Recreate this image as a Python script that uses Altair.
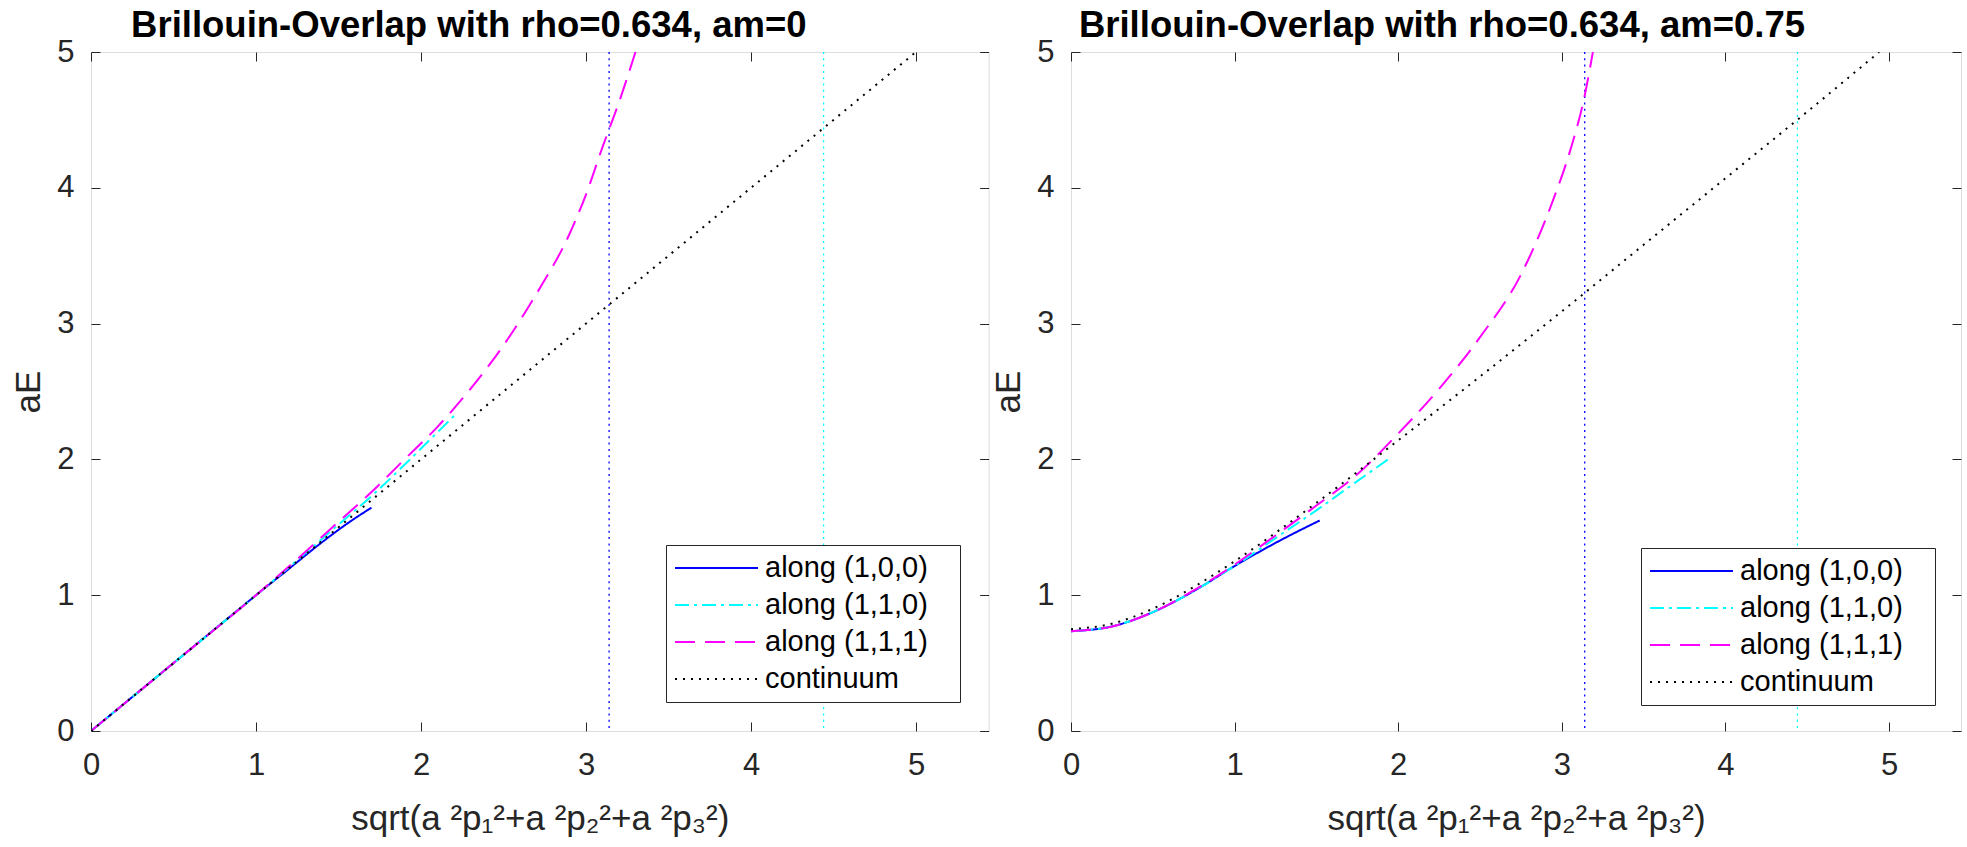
import altair as alt
import pandas as pd

# ---------------- data ----------------
SERIES = ["along (1,0,0)", "along (1,1,0)", "along (1,1,1)", "continuum"]
COLORS = ["#0000ff", "#00ffff", "#ff00ff", "#000000"]
DASHES = [[1, 0], [14, 5, 3, 5], [20, 10], [2, 6]]

X_TICKS = [0, 1, 2, 3, 4, 5]
Y_TICKS = [0, 1, 2, 3, 4, 5]
X_MAX = 5.44
Y_MAX = 5

# left panel: am = 0
L_X100 = [0, 0.4, 0.8, 1.0, 1.2, 1.4, 1.55, 1.70]
L_Y100 = [0, 0.40, 0.80, 1.0, 1.195, 1.39, 1.525, 1.645]
L_X110 = [0, 0.5, 1.0, 1.3, 1.5, 1.7, 1.9, 2.05, 2.2]
L_Y110 = [0, 0.5, 1.0, 1.31, 1.52, 1.73, 1.96, 2.14, 2.32]
L_X111 = [0, 0.5, 1.0, 1.3, 1.5, 1.7, 1.9, 2.1, 2.3, 2.5, 2.7, 2.9, 3.0, 3.1, 3.2, 3.3]
L_Y111 = [0, 0.5, 1.0, 1.32, 1.54, 1.76, 2.0, 2.24, 2.52, 2.84, 3.22, 3.66, 3.95, 4.3, 4.63, 5.0]
L_XC = [0, 5.0]
L_YC = [0, 5.0]

# right panel: am = 0.75
R_X100 = [0, 0.25, 0.5, 0.75, 1.0, 1.25, 1.52]
R_Y100 = [0.735, 0.77, 0.875, 1.03, 1.215, 1.385, 1.55]
R_X110 = [0, 0.25, 0.5, 0.75, 1.0, 1.25, 1.5, 1.75, 1.95]
R_Y110 = [0.735, 0.77, 0.875, 1.03, 1.215, 1.42, 1.625, 1.84, 2.01]
R_X111 = [0, 0.25, 0.5, 0.75, 1.0, 1.25, 1.5, 1.75, 2.0, 2.25, 2.5, 2.75, 2.95, 3.05, 3.14, 3.19]
R_Y111 = [0.735, 0.77, 0.875, 1.035, 1.225, 1.44, 1.66, 1.89, 2.19, 2.52, 2.9, 3.36, 3.92, 4.27, 4.68, 5.0]
R_XC = [0, 0.25, 0.5, 0.75, 1.0, 1.5, 2.0, 2.5, 3.0, 3.5, 4.0, 4.5, 4.94]
R_YC = [0.75, 0.79, 0.9, 1.06, 1.25, 1.68, 2.14, 2.61, 3.09, 3.58, 4.07, 4.56, 5.0]

# Brillouin-zone markers (vertical dotted lines)
BZ_LINES = [3.14, 4.44]
BZ_COLORS = ["#0000ff", "#00ffff"]

TITLES = ["Brillouin-Overlap with rho=0.634, am=0", "Brillouin-Overlap with rho=0.634, am=0.75"]
X_TITLE = "sqrt(a \u00b2p\u2081\u00b2+a \u00b2p\u2082\u00b2+a \u00b2p\u2083\u00b2)"
Y_TITLE = "aE"

FONT = "Liberation Sans"
AXC = "#262626"
PAD = "   \u2060"   # trailing room in the legend box (word joiner keeps it from being trimmed)


def long_df(xs, ys):
    rows = []
    for k, name in enumerate(SERIES):
        for i, (a, b) in enumerate(zip(xs[k], ys[k])):
            rows.append({"x": a, "y": b, "series": name, "i": i})
    return pd.DataFrame(rows)


def panel(df, cont_df, title, dx, width, height, lx, ly):
    xs = alt.Scale(domain=[0, X_MAX], nice=False, zero=False)
    ys = alt.Scale(domain=[0, Y_MAX], nice=False, zero=False)
    leg = alt.Legend(
        title=None, orient="none", legendX=lx, legendY=ly,
        symbolType="stroke", symbolSize=6889, symbolStrokeWidth=2,
        labelFontSize=29, labelFont=FONT, labelColor="black", labelOffset=6,
        labelLimit=500,
        padding=8, strokeColor=AXC, fillColor="white", clipHeight=30,
        rowPadding=7, labelExpr="datum.label + '" + PAD + "'",
    )
    curves = alt.Chart(df).mark_line(strokeWidth=2, clip=True, interpolate="monotone", strokeCap="butt").encode(
        x=alt.X("x:Q", scale=xs, axis=alt.Axis(
            orient="bottom", values=X_TICKS, ticks=False, tickSize=0, domain=False, grid=False,
            labelPadding=19, labelFontSize=31, labelFont=FONT, labelColor=AXC, labelFlush=False,
            title=X_TITLE, titleFontSize=35, titleFont=FONT, titleFontWeight="normal",
            titleColor=AXC, titlePadding=21)),
        y=alt.Y("y:Q", scale=ys, axis=alt.Axis(
            orient="left", values=Y_TICKS, ticks=False, tickSize=0, domain=False, grid=False,
            labelPadding=17, labelFontSize=31, labelFont=FONT, labelColor=AXC, labelFlush=False,
            title=Y_TITLE, titleFontSize=35, titleFont=FONT, titleFontWeight="normal",
            titleColor=AXC, titlePadding=10)),
        color=alt.Color("series:N", scale=alt.Scale(domain=SERIES, range=COLORS), legend=leg),
        strokeDash=alt.StrokeDash("series:N", scale=alt.Scale(domain=SERIES, range=DASHES), legend=leg),
        order="i:Q",
    )
    tick_ax = dict(values=X_TICKS, tickSize=9, tickColor=AXC, tickWidth=1, labels=False,
                   domain=False, grid=False, title=None, offset=-9, minExtent=0, maxExtent=0)
    rule_a = alt.Chart(pd.DataFrame({"x": [BZ_LINES[0]]})).mark_rule(
        color=BZ_COLORS[0], strokeWidth=1.3, strokeDash=[2, 4.3]).encode(
        x=alt.X("x:Q", scale=xs, axis=alt.Axis(orient="bottom", **tick_ax)))
    rule_b = alt.Chart(pd.DataFrame({"x": [BZ_LINES[1]]})).mark_rule(
        color=BZ_COLORS[1], strokeWidth=1.3, strokeDash=[2, 4.3]).encode(
        x=alt.X("x:Q", scale=xs, axis=alt.Axis(orient="top", **tick_ax)))
    ghost_l = alt.Chart(cont_df).mark_line(opacity=0).encode(
        x=alt.X("x:Q", scale=xs, axis=None),
        y=alt.Y("y:Q", scale=ys, axis=alt.Axis(orient="left", **tick_ax)))
    ghost_r = alt.Chart(cont_df).mark_line(opacity=0).encode(
        x=alt.X("x:Q", scale=xs, axis=None),
        y=alt.Y("y:Q", scale=ys, axis=alt.Axis(orient="right", **tick_ax)))
    return alt.layer(rule_a, rule_b, ghost_l, ghost_r, curves).resolve_axis(
        x="independent", y="independent").properties(
        width=width, height=height,
        title=alt.TitleParams(text=title, fontSize=36.5, font=FONT, fontWeight="bold", color="black",
                              anchor="middle", frame="group", dx=dx, offset=-8),
    )


left_df = long_df([L_X100, L_X110, L_X111, L_XC], [L_Y100, L_Y110, L_Y111, L_YC])
right_df = long_df([R_X100, R_X110, R_X111, R_XC], [R_Y100, R_Y110, R_Y111, R_YC])
left_c = pd.DataFrame({"x": L_XC, "y": L_YC})
right_c = pd.DataFrame({"x": R_XC, "y": R_YC})

left = panel(left_df, left_c, TITLES[0], -71, 897.6, 679, 575, 493)
right = panel(right_df, right_c, TITLES[1], -74, 890, 679, 570, 496)

chart = alt.hconcat(left, right, spacing=1).resolve_scale(
    color="independent", strokeDash="independent").resolve_legend(
    color="independent", strokeDash="independent").properties(
    padding={"left": 11, "top": 7, "right": 0, "bottom": 0},
    background="white",
).configure_view(stroke=AXC, strokeWidth=1.3).configure(font=FONT)

chart.save("out.html", embed_options={"renderer": "svg", "actions": False})
